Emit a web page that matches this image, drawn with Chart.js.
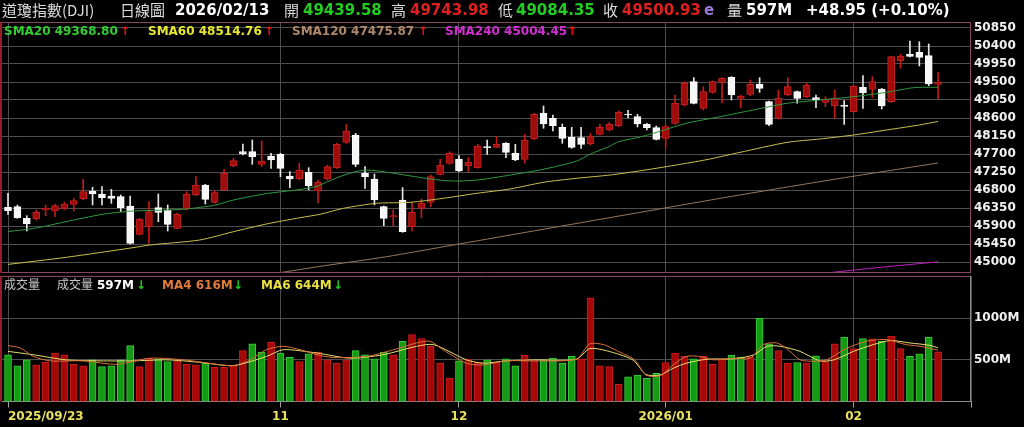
<!DOCTYPE html>
<html>
<head>
<meta charset="utf-8">
<script src="https://cdn.jsdelivr.net/npm/chart.js@4.4.1/dist/chart.umd.min.js"></script>
<style>
html, body { margin: 0; padding: 0; background: #000; }
#wrap { position: relative; width: 1024px; height: 427px; background: #000; overflow: hidden; }
canvas { position: absolute; left: 0; }
.t { position: absolute; white-space: nowrap; line-height: 1; z-index: 2; }
.cjk { font-family: "Noto Sans CJK TC", "Noto Sans CJK SC", sans-serif; }
.num { font-family: "DejaVu Sans", Verdana, sans-serif; font-weight: bold; }
</style>
</head>
<body>
<div id="wrap">
  <canvas id="price" width="1024" height="274" style="top:0"></canvas>
  <canvas id="volume" width="1024" height="153" style="top:274px"></canvas>

  <!-- header -->
  <span class="t cjk" style="left:2px;top:2px;font-size:15px;color:#dcdcdc">道瓊指數(DJI)</span>
  <span class="t cjk" style="left:120px;top:2px;font-size:15px;color:#dcdcdc">日線圖</span>
  <span class="t num" style="left:175px;top:3px;font-size:15px;color:#fff">2026/02/13</span>
  <span class="t cjk" style="left:284px;top:2px;font-size:15px;color:#dcdcdc">開</span>
  <span class="t num" style="left:303px;top:3px;font-size:15px;color:#22cc22">49439.58</span>
  <span class="t cjk" style="left:391px;top:2px;font-size:15px;color:#dcdcdc">高</span>
  <span class="t num" style="left:410px;top:3px;font-size:15px;color:#e02020">49743.98</span>
  <span class="t cjk" style="left:498px;top:2px;font-size:15px;color:#dcdcdc">低</span>
  <span class="t num" style="left:516px;top:3px;font-size:15px;color:#22cc22">49084.35</span>
  <span class="t cjk" style="left:603px;top:2px;font-size:15px;color:#dcdcdc">收</span>
  <span class="t num" style="left:622px;top:3px;font-size:15px;color:#e02020">49500.93</span>
  <span class="t num" style="left:704px;top:3px;font-size:15px;color:#9a78d8">e</span>
  <span class="t cjk" style="left:727px;top:2px;font-size:15px;color:#dcdcdc">量</span>
  <span class="t num" style="left:746px;top:3px;font-size:15px;color:#fff">597M</span>
  <span class="t num" style="left:806px;top:3px;font-size:15px;color:#fff">+48.95 (+0.10%)</span>

  <!-- price legend -->
  <span class="t num" style="left:4px;top:25px;font-size:12px;color:#33cc33">SMA20 49368.80</span>
  <span class="t num" style="left:120px;top:25px;font-size:12px;color:#ee1111">↑</span>
  <span class="t num" style="left:148px;top:25px;font-size:12px;color:#e6e630">SMA60 48514.76</span>
  <span class="t num" style="left:264px;top:25px;font-size:12px;color:#ee1111">↑</span>
  <span class="t num" style="left:292px;top:25px;font-size:12px;color:#b08868">SMA120 47475.87</span>
  <span class="t num" style="left:418px;top:25px;font-size:12px;color:#ee1111">↑</span>
  <span class="t num" style="left:445px;top:25px;font-size:12px;color:#d030d0">SMA240 45004.45</span>
  <span class="t num" style="left:567px;top:25px;font-size:12px;color:#ee1111">↑</span>

  <!-- volume legend -->
  <span class="t cjk" style="left:4px;top:278px;font-size:12px;color:#c8c8c8">成交量</span>
  <span class="t cjk" style="left:57px;top:278px;font-size:12px;color:#c8c8c8">成交量</span>
  <span class="t num" style="left:97px;top:279px;font-size:12px;color:#fff">597M</span>
  <span class="t num" style="left:136px;top:279px;font-size:12px;color:#22cc22">↓</span>
  <span class="t num" style="left:162px;top:279px;font-size:12px;color:#e07a3a">MA4 616M</span>
  <span class="t num" style="left:233px;top:279px;font-size:12px;color:#22cc22">↓</span>
  <span class="t num" style="left:261px;top:279px;font-size:12px;color:#e8e040">MA6 644M</span>
  <span class="t num" style="left:333px;top:279px;font-size:12px;color:#22cc22">↓</span>
</div>

<script>
// daily candles, 2025/09/23 .. 2026/02/13 (index = trading day)
const opens = [46367,46383,46092,46075,46308,46275,46342,46442,46575,46775,
  46700,46650,46633,46400,45692,45883,46358,46300,45842,46325,
  46675,46925,46492,46800,47408,47758,47758,47442,47650,47692,
  47150,47075,47242,46780,47075,47358,47992,48175,47217,47075,
  46383,46125,46550,45883,46342,46492,47192,47467,47575,47408,
  47358,47883,47867,47967,47717,47567,48075,48717,48592,48367,
  48117,48108,47950,48192,48300,48408,48700,48633,48442,48358,
  48092,48467,48925,49508,48842,49242,49492,49617,49092,49192,
  49442,49008,48592,49175,49258,49133,49108,48992,48900,48925,
  48758,49367,49317,49325,49008,50033,50200,50242,50158,49439.58]
const highs = [46717,46425,46158,46300,46425,46442,46492,46592,47067,46867,
  46883,46817,46675,46650,46092,46508,46700,46425,46217,46758,
  47133,46942,46783,47317,47592,47950,48050,48025,47717,47717,
  47258,47467,47358,47050,47425,47967,48442,48217,47383,47200,
  46400,46300,46858,46492,46575,47175,47567,47758,47658,47617,
  47942,48050,48133,47983,47942,48192,48717,48900,48675,48450,
  48367,48367,48217,48450,48492,48775,48790,48690,48467,48400,
  48425,49175,49508,49608,49383,49525,49608,49633,49175,49550,
  49608,49025,49300,49608,49275,49467,49175,49133,49300,49033,
  49425,49658,49633,49342,50150,50192,50525,50508,50450,49743.98]
const lows = [46192,46092,45775,46050,46158,46133,46300,46275,46550,46425,
  46425,46467,46258,45450,45675,45467,46008,45775,45825,46300,
  46658,46450,46467,46783,47383,47675,47442,47383,47342,47133,
  46858,47050,46800,46480,47050,47342,47967,47383,46842,46425,
  45908,45900,45742,45775,46108,46383,47175,47442,47258,47258,
  47342,47692,47858,47608,47533,47467,48058,48342,48275,47967,
  47842,47842,47925,48175,48275,48383,48600,48375,48300,48050,
  47842,48442,48900,48950,48800,49217,48983,49050,48858,49158,
  49242,48408,48575,49158,48967,49108,48858,48883,48592,48442,
  48742,48842,49117,48825,48992,49842,50125,49900,49408,49084.35]
const closes = [46283,46108,45950,46242,46342,46408,46450,46533,46758,46700,
  46608,46592,46358,45467,46075,46258,46242,45942,46192,46700,
  46925,46567,46733,47217,47533,47708,47633,47525,47550,47342,
  47075,47300,46908,46990,47383,47942,48275,47442,47133,46550,
  46092,46158,45758,46242,46467,47133,47425,47717,47275,47492,
  47900,47858,47942,47742,47550,48050,48692,48450,48408,48092,
  47867,47942,48133,48367,48442,48742,48675,48450,48358,48067,
  48383,48967,49467,48967,49258,49508,49592,49175,49150,49442,
  49342,48442,49092,49383,49092,49425,49058,49075,49100,48892,
  49400,49233,49508,48900,50133,50150,50140,50117,49452,49500.93]

// volume in millions
const volumes = [561,427,500,439,472,582,561,447,427,500,
  419,427,500,671,419,521,512,480,488,447,
  439,460,411,411,431,610,692,594,711,582,
  529,480,573,594,500,460,500,610,561,512,
  594,561,724,805,756,663,460,277,488,508,
  472,500,472,512,427,553,488,500,521,460,
  541,512,1244,427,419,207,297,317,277,338,
  468,582,541,512,541,447,512,553,533,529,
  1000,692,610,460,468,460,549,488,692,773,
  634,756,752,724,785,634,541,573,773,597]

// moving averages: [day index, value]
const sma20 = [[0,45760],[3,45850],[6,46000],[10,46190],[13,46270],[17,46300],[19,46325],[22,46420],
  [24,46550],[27.5,46710],[31,46810],[33,46900],[34,47010],[36,47190],[38,47300],[41,47220],
  [44.5,47090],[46.5,47035],[48,47025],[50,47050],[53.5,47175],[57,47320],[60.5,47520],[62,47700],
  [64,47890],[65,48010],[67,48110],[68.7,48217],[72.2,48467],[75.8,48633],[79.3,48800],[82.9,48967],
  [86.4,49050],[90,49133],[93.5,49242],[96.4,49358],[99,49368.8]]
const sma60 = [[0,44940],[6.2,45117],[13.3,45358],[15.1,45425],[20.4,45550],[24,45758],[27.5,45950],
  [31.1,46108],[33.2,46192],[35.7,46342],[39.2,46467],[42.8,46492],[46.3,46592],[49.9,46717],
  [53.4,46825],[57,46992],[60.5,47092],[64.1,47175],[67.3,47280],[71,47420],[74.4,47560],
  [77.9,47740],[82.9,47990],[86.4,48075],[90,48175],[93.5,48300],[97,48425],[99,48514.76]]
const sma120 = [[28.6,44720],[33.2,44890],[40.3,45133],[47.4,45425],[54.5,45717],[61.6,46008],
  [68.7,46300],[78,46680],[88.6,47092],[99,47475.87]]
const sma240 = [[87.3,44730],[93,44870],[99,45004.45]]
const volMa4 = [[0,671],[1.3,643],[2.7,541],[4.5,488],[8,488],[11.6,447],[15.1,520],[18.7,500],
  [22.2,447],[24,431],[25.8,500],[27.5,622],[29.3,663],[31.1,622],[32.9,561],[34.6,529],[38.2,541],
  [41.7,643],[43.5,703],[44.9,724],[46.3,622],[48.8,460],[50.6,439],[53,488],[56,488],[60.5,508],
  [61.9,691],[63.4,683],[64.8,610],[66.7,500],[67.9,317],[69.4,309],[70.8,439],[72.2,541],
  [73.6,541],[75.1,500],[77.2,520],[79,520],[80.4,683],[81.8,704],[82.9,634],[84.3,500],
  [85.7,484],[87.1,500],[89.2,634],[91.4,724],[93.5,744],[95.6,683],[97.1,663],[99,616]]
const volMa6 = [[0,602],[2.7,561],[6.2,500],[9.8,488],[13.3,488],[16.9,500],[20.4,471],[24,431],
  [27.5,541],[29.3,622],[32.9,582],[36.4,520],[39.9,561],[43.5,663],[45.3,683],[48.8,500],
  [50.6,460],[53,488],[56,500],[60.5,508],[61.9,635],[63.7,610],[66.5,500],[67.9,325],[69.4,317],
  [70.8,399],[72.2,460],[74.4,508],[77.2,512],[79.4,561],[80.8,663],[82.2,663],[84.3,602],
  [86.4,488],[87.9,500],[90,602],[92.1,683],[93.9,732],[96,703],[98.1,675],[99,644]]

// axes
const priceTicks = [45000,45450,45900,46350,46800,47250,47700,48150,48600,49050,49500,49950,50400,50850]
const volTicks = [500, 1000]
const dateTickIdx = [0, 29, 48, 70, 90]
const dateTickLabels = ['2025/09/23', '11', '12', '2026/01', '02']

const X_MIN = -0.64, X_MAX = 102.5
const GRID = '#4e4e4e'

Chart.defaults.font.family = '"DejaVu Sans", Verdana, sans-serif'
Chart.defaults.font.weight = 'bold'
Chart.defaults.font.size = 12

let idx = closes.map((c, i) => i)
let candleUp = idx.map(i => closes[i] >= opens[i])
let volUp = idx.map(i => i === 0 ? candleUp[0] : closes[i] >= closes[i - 1])

// no extra room for edge labels, the panels are laid out by hand
function noPad(s) {
  s.paddingTop = 0
  s.paddingBottom = 0
  s.paddingLeft = 0
  s.paddingRight = 0
}

// panel borders
const framePlugin = {
  id: 'frame',
  afterDraw(chart, args, opts) {
    let ctx = chart.ctx
    let a = chart.chartArea
    ctx.save()
    function side(color, w, x1, y1, x2, y2) {
      if (!color) return
      ctx.strokeStyle = color
      ctx.lineWidth = w
      ctx.beginPath()
      ctx.moveTo(x1, y1)
      ctx.lineTo(x2, y2)
      ctx.stroke()
    }
    side(opts.top, 1, a.left, a.top + 0.5, a.right, a.top + 0.5)
    side(opts.right, 1, a.right - 0.5, a.top, a.right - 0.5, a.bottom)
    side(opts.bottom, 1, a.left, a.bottom - 0.5, a.right, a.bottom - 0.5)
    side(opts.left, 2, a.left - 1, a.top, a.left - 1, a.bottom)
    ctx.restore()
  }
}

function lineSet(pts, color, order) {
  return {
    type: 'line', data: pts, borderColor: color, borderWidth: 1,
    pointRadius: 0, tension: 0.25, fill: false, order: order
  }
}

// price chart
let priceChart = new Chart(document.querySelector('#price').getContext('2d'), {
  type: 'bar',
  data: {
    datasets: [
      {
        data: idx.map(i => ({ x: i, y: [lows[i], highs[i]] })),
        backgroundColor: idx.map(i => candleUp[i] ? '#c41a1a' : '#e6e6e6'),
        borderWidth: 0, barThickness: 1, grouped: false, order: 3
      },
      {
        data: idx.map(i => ({ x: i, y: [opens[i], closes[i]] })),
        backgroundColor: idx.map(i => candleUp[i] ? '#9e0c0c' : '#f6f6f6'),
        borderColor: idx.map(i => candleUp[i] ? '#c82020' : '#ffffff'),
        borderWidth: 1, borderSkipped: false, barThickness: 7, grouped: false, order: 2
      },
      lineSet(sma240, '#c020c0', 1),
      lineSet(sma120, '#9a7658', 1),
      lineSet(sma60, '#c8c050', 1),
      lineSet(sma20, '#2f9a3f', 0)
    ]
  },
  options: {
    responsive: false,
    animation: false,
    layout: { padding: { left: 2, top: 22, right: 0, bottom: 1 } },
    plugins: {
      legend: { display: false },
      tooltip: { enabled: false },
      frame: { top: '#8a4466', right: '#8a4466', bottom: '#8a4466', left: '#9a1c2a' }
    },
    scales: {
      x: {
        type: 'linear', min: X_MIN, max: X_MAX, offset: false,
        afterBuildTicks: s => { s.ticks = dateTickIdx.map(v => ({ value: v })) },
        afterFit: s => { s.height = 0; noPad(s) },
        ticks: { display: false },
        grid: { color: GRID, offset: false, drawTicks: false },
        border: { display: false }
      },
      y: {
        position: 'right', min: 44725, max: 51000,
        afterBuildTicks: s => { s.ticks = priceTicks.map(v => ({ value: v })) },
        afterFit: s => { s.width = 53; noPad(s) },
        ticks: { color: '#f2f2f2', padding: 3, callback: v => String(v) },
        grid: { color: GRID, drawTicks: false },
        border: { display: false }
      }
    }
  },
  plugins: [framePlugin]
})

// volume chart
let volumeChart = new Chart(document.querySelector('#volume').getContext('2d'), {
  type: 'bar',
  data: {
    datasets: [
      {
        data: idx.map(i => ({ x: i, y: volumes[i] })),
        backgroundColor: idx.map(i => volUp[i] ? '#a60808' : '#149a14'),
        borderColor: idx.map(i => volUp[i] ? '#cc1c1c' : '#3ccc3c'),
        borderWidth: 1, borderSkipped: false, barThickness: 7, grouped: false, order: 2
      },
      lineSet(volMa6, '#e6e070', 1),
      lineSet(volMa4, '#d8703a', 0)
    ]
  },
  options: {
    responsive: false,
    animation: false,
    layout: { padding: { left: 2, top: 2, right: 0, bottom: 0 } },
    plugins: {
      legend: { display: false },
      tooltip: { enabled: false },
      frame: { top: '#8a4466', right: '#8c8c8c', left: '#9a1c2a' }
    },
    scales: {
      x: {
        type: 'linear', min: X_MIN, max: X_MAX, offset: false,
        afterBuildTicks: s => { s.ticks = dateTickIdx.concat([X_MAX]).map(v => ({ value: v })) },
        afterFit: s => { s.height = 25.5; noPad(s) },
        ticks: {
          color: '#e8e060', align: 'inner', autoSkip: false, maxRotation: 0, padding: 2,
          callback: (v, i) => dateTickLabels[i] || ''
        },
        grid: { color: GRID, offset: false, tickLength: 6, tickColor: '#a0a0a0' },
        border: { display: true, color: '#8c8c8c' }
      },
      y: {
        position: 'right', min: 0, max: 1507,
        afterBuildTicks: s => { s.ticks = volTicks.map(v => ({ value: v })) },
        afterFit: s => { s.width = 53; noPad(s) },
        ticks: { color: '#f2f2f2', padding: 3, callback: v => v + 'M' },
        grid: { color: GRID, drawTicks: false },
        border: { display: false }
      }
    }
  },
  plugins: [framePlugin]
})
</script>
</body>
</html>
